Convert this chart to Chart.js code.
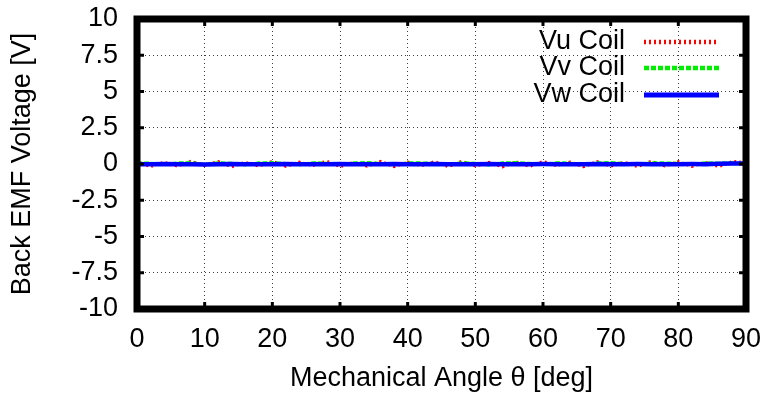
<!DOCTYPE html>
<html>
<head>
<meta charset="utf-8">
<script src="https://cdn.jsdelivr.net/npm/chart.js@4.4.1/dist/chart.umd.min.js"></script>
<style>
html,body{margin:0;padding:0;background:#fff;}
#wrap{width:769px;height:397px;}
</style>
</head>
<body>
<div id="wrap"><canvas id="c" width="769" height="397"></canvas></div>
<script>
// ---- data ----
const seriesLabels = ['Vu Coil', 'Vv Coil', 'Vw Coil'];
const angles = [0,2,4,6,8,10,12,14,16,18,20,22,24,26,28,30,32,34,36,38,40,42,44,46,48,50,52,54,56,58,60,62,64,66,68,70,72,74,76,78,80,82,84,86,88,90];
const vu = [0.16,-0.18,0.12,-0.15,0.19,-0.10,0.17,-0.19,0.11,-0.14,0.18,-0.16,0.13,-0.11,0.20,-0.18,0.10,-0.15,0.18,-0.19,0.14,-0.12,0.17,-0.18,0.19,-0.14,0.11,-0.20,0.15,-0.17,0.18,-0.11,0.14,-0.19,0.17,-0.15,0.12,-0.18,0.19,-0.14,0.16,-0.17,0.11,-0.18,0.18,0.08];
const vv = [0.09,0.06,-0.04,0.08,0.10,-0.03,0.09,0.05,-0.06,0.08,0.10,0.04,-0.05,0.09,0.06,-0.03,0.08,0.10,0.05,-0.06,0.09,0.08,0.04,-0.05,0.09,0.06,-0.07,0.08,0.10,0.05,-0.03,0.09,0.06,-0.05,0.08,0.10,0.04,-0.06,0.09,0.08,0.05,-0.03,0.09,0.06,0.08,0.03];
const vw = [-0.02,-0.01,0.00,-0.02,-0.01,-0.03,-0.01,0.00,-0.02,-0.01,-0.02,0.00,-0.01,-0.02,-0.01,0.00,-0.02,-0.01,-0.01,0.00,-0.02,-0.01,0.00,-0.02,-0.01,-0.02,0.00,-0.01,-0.02,-0.01,0.00,-0.01,-0.02,-0.01,0.00,-0.02,-0.01,0.00,-0.01,-0.02,-0.01,0.00,-0.01,0.02,0.03,0.04];
const xTicks = [0,10,20,30,40,50,60,70,80,90];
const yTicks = [-10,-7.5,-5,-2.5,0,2.5,5,7.5,10];
const xTitle = 'Mechanical Angle θ [deg]';
const yTitle = 'Back EMF Voltage [V]';

const FONT = 'Liberation Sans, Arial, sans-serif';
const FS = 27;

function pts(ys){ return angles.map((a,i)=>({x:a,y:ys[i]})); }

const styles = [
  {color:'#ff0000', width:3, dash:[2,3]},
  {color:'#00ee00', width:3, dash:[5,2]},
  {color:'#0000ff', width:4.5, dash:[]}
];

const frameAndLegend = {
  id:'frameAndLegend',
  afterDatasetsDraw(chart){
    const ctx = chart.ctx, a = chart.chartArea;
    const xs = chart.scales.x, ys = chart.scales.y;
    ctx.save();
    // inward ticks
    ctx.strokeStyle = '#000'; ctx.lineWidth = 3; ctx.setLineDash([]);
    xTicks.forEach(t=>{
      const px = xs.getPixelForValue(t);
      ctx.beginPath(); ctx.moveTo(px,a.bottom); ctx.lineTo(px,a.bottom-7); ctx.stroke();
      ctx.beginPath(); ctx.moveTo(px,a.top); ctx.lineTo(px,a.top+7); ctx.stroke();
    });
    yTicks.forEach(t=>{
      const py = ys.getPixelForValue(t);
      ctx.beginPath(); ctx.moveTo(a.left,py); ctx.lineTo(a.left+7,py); ctx.stroke();
      ctx.beginPath(); ctx.moveTo(a.right,py); ctx.lineTo(a.right-7,py); ctx.stroke();
    });
    // frame
    ctx.lineWidth = 7;
    ctx.strokeRect(a.left, a.top, a.right-a.left, a.bottom-a.top);
    // legend
    ctx.font = FS + 'px ' + FONT;
    ctx.textAlign = 'right'; ctx.textBaseline = 'middle'; ctx.fillStyle = '#000';
    const rowsY = [42, 68, 95];
    chart.data.datasets.forEach((ds,i)=>{
      const y = rowsY[i];
      ctx.fillText(ds.label, 625, y);
      const st = styles[i];
      ctx.strokeStyle = st.color; ctx.lineWidth = st.width + (i<2?1.5:0.5);
      ctx.setLineDash(st.dash);
      ctx.beginPath(); ctx.moveTo(644, y); ctx.lineTo(719, y); ctx.stroke();
    });
    ctx.restore();
  }
};

new Chart(document.getElementById('c'), {
  type:'scatter',
  data:{
    datasets:[
      {label:seriesLabels[0], data:pts(vu), showLine:true, borderColor:styles[0].color, borderWidth:styles[0].width, borderDash:styles[0].dash, pointRadius:0, order:2, tension:0},
      {label:seriesLabels[1], data:pts(vv), showLine:true, borderColor:styles[1].color, borderWidth:styles[1].width, borderDash:styles[1].dash, pointRadius:0, order:1, tension:0},
      {label:seriesLabels[2], data:pts(vw), showLine:true, borderColor:styles[2].color, borderWidth:styles[2].width, borderDash:styles[2].dash, pointRadius:0, order:0, tension:0}
    ]
  },
  options:{
    responsive:false, animation:false,
    layout:{padding:{top:19, right:23, left:0, bottom:0}},
    plugins:{legend:{display:false}, tooltip:{enabled:false}},
    scales:{
      x:{
        type:'linear', min:0, max:90,
        afterBuildTicks(s){ s.ticks = xTicks.map(v=>({value:v})); },
        afterFit(s){ s.height = 88; s.paddingLeft = 0; s.paddingRight = 0; },
        ticks:{color:'#000', font:{family:FONT, size:FS}, padding:14, maxRotation:0},
        grid:{color:'rgba(0,0,0,0.75)', lineWidth:1, drawTicks:false},
        border:{display:false, dash:[1,3]},
        title:{display:true, text:xTitle, color:'#000', font:{family:FONT, size:FS}, padding:{top:0,bottom:2}}
      },
      y:{
        min:-10, max:10,
        afterBuildTicks(s){ s.ticks = yTicks.map(v=>({value:v})); },
        afterFit(s){ s.width = 137; s.paddingTop = 0; s.paddingBottom = 0; },
        ticks:{color:'#000', font:{family:FONT, size:FS}, padding:19},
        grid:{color:'rgba(0,0,0,0.75)', lineWidth:1, drawTicks:false},
        border:{display:false, dash:[1,3]},
        title:{display:true, text:yTitle, color:'#000', font:{family:FONT, size:FS}, padding:{top:6,bottom:0}}
      }
    }
  },
  plugins:[frameAndLegend]
});
</script>
</body>
</html>
